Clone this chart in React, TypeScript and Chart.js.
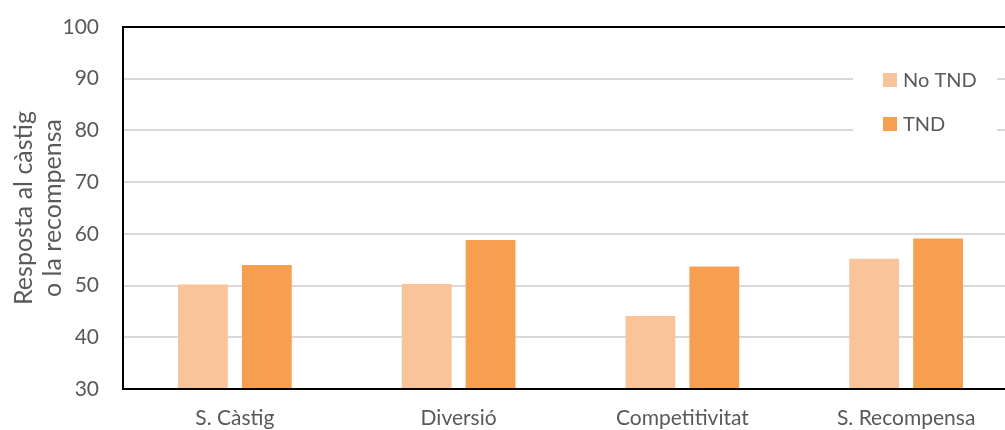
import React, { useEffect, useRef } from "react";
import { Chart, registerables } from "chart.js";

Chart.register(...registerables);

const categories = ["S. Càstig", "Diversió", "Competitivitat", "S. Recompensa"];
const seriesNames = ["No TND", "TND"];
const noTND = [50.2, 50.3, 44.1, 55.2];
const tnd = [54.0, 58.8, 53.7, 59.1];
const yTitle = ["Resposta al càstig", "o la recompensa"];
const yMin = 30;
const yMax = 100;
const yStep = 10;

const LIGHT = "#F9C499";
const DARK = "#F79F51";
const TEXT = "#595959";
const FONT = "Lato";

const framePlugin = {
  id: "frameAndExtras",
  afterDatasetsDraw(chart: any) {
    const { ctx, chartArea } = chart;
    const { left, right, top, bottom } = chartArea;
    ctx.save();
    // frame
    ctx.strokeStyle = "#000000";
    ctx.lineWidth = 2;
    ctx.beginPath();
    ctx.moveTo(left, top);
    ctx.lineTo(right, top);
    ctx.moveTo(left, top - 1);
    ctx.lineTo(left, bottom + 1);
    ctx.moveTo(left, bottom);
    ctx.lineTo(right, bottom);
    ctx.moveTo(right, top);
    ctx.lineTo(right, bottom);
    ctx.stroke();

    // legend inside plot
    ctx.fillStyle = "#FFFFFF";
    ctx.fillRect(853, 62, 144, 86);
    const colors = [LIGHT, DARK];
    const ys = [80, 124];
    ctx.font = `20px ${FONT}`;
    ctx.textBaseline = "middle";
    ctx.textAlign = "left";
    for (let i = 0; i < seriesNames.length; i++) {
      ctx.fillStyle = colors[i];
      ctx.fillRect(883, ys[i] - 7, 14, 14);
      ctx.fillStyle = TEXT;
      ctx.fillText(seriesNames[i], 903, ys[i] + 1);
    }

    // y axis title
    const cy = (top + bottom) / 2;
    ctx.font = `25px ${FONT}`;
    ctx.fillStyle = TEXT;
    ctx.textAlign = "center";
    ctx.textBaseline = "alphabetic";
    const xs = [32, 61];
    for (let i = 0; i < yTitle.length; i++) {
      ctx.save();
      ctx.translate(xs[i], cy);
      ctx.rotate(-Math.PI / 2);
      ctx.fillText(yTitle[i], 0, 0);
      ctx.restore();
    }
    ctx.restore();
  },
};

export default function App() {
  const ref = useRef<HTMLCanvasElement | null>(null);
  useEffect(() => {
    if (!ref.current) return;
    const chart = new Chart(ref.current, {
      type: "bar",
      data: {
        labels: categories,
        datasets: [
          { label: seriesNames[0], data: noTND, backgroundColor: LIGHT, borderWidth: 0 },
          { label: seriesNames[1], data: tnd, backgroundColor: DARK, borderWidth: 0 },
        ],
      },
      options: {
        responsive: false,
        animation: false,
        categoryPercentage: 0.571,
        barPercentage: 0.78,
        layout: { padding: { top: 27, right: 12, bottom: 0, left: 0 } },
        plugins: {
          legend: { display: false },
          tooltip: { enabled: false },
          title: { display: false },
        },
        scales: {
          x: {
            grid: { display: false, drawTicks: false },
            border: { display: false },
            ticks: {
              color: TEXT,
              font: { family: FONT, size: 21 },
              padding: 17,
              maxRotation: 0,
              autoSkip: false,
            },
            afterFit(scale: any) {
              scale.height = 41;
              scale.paddingLeft = 0;
              scale.paddingRight = 0;
            },
          },
          y: {
            min: yMin,
            max: yMax,
            grid: { color: "#D9D9D9", lineWidth: 2, drawTicks: false },
            border: { display: false },
            ticks: {
              stepSize: yStep,
              color: TEXT,
              font: { family: FONT, size: 21 },
              padding: 24,
            },
            afterFit(scale: any) {
              scale.width = 123;
              scale.paddingTop = 0;
              scale.paddingBottom = 0;
            },
          },
        },
      },
      plugins: [framePlugin],
    });
    return () => chart.destroy();
  }, []);
  return (
    <div
      style={{
        position: "fixed",
        left: 0,
        top: 0,
        width: 1005,
        height: 430,
        overflow: "hidden",
        background: "#fff",
      }}
    >
      <canvas ref={ref} width={1030} height={430} style={{ display: "block" }} />
    </div>
  );
}
